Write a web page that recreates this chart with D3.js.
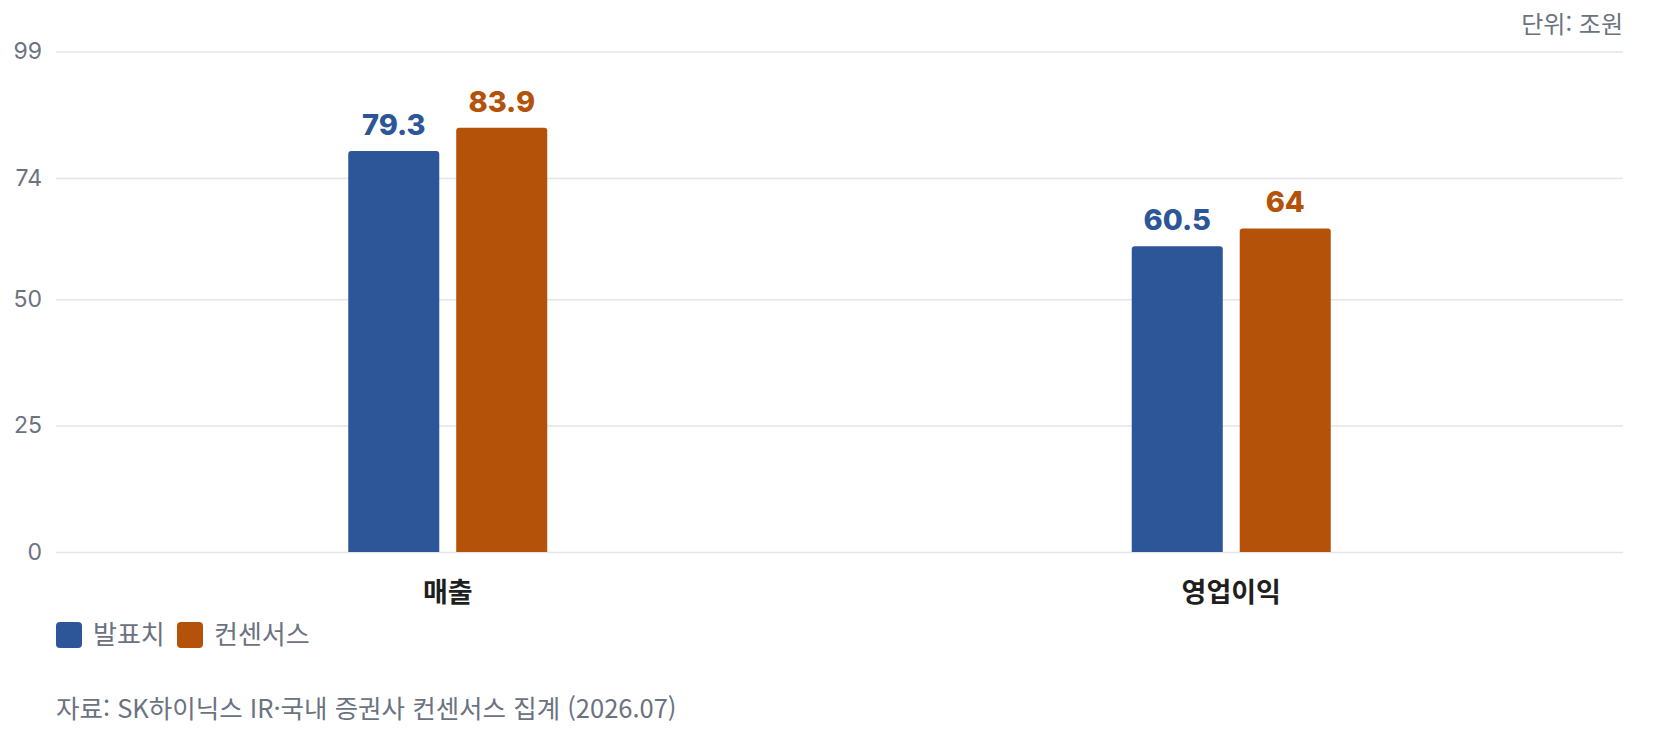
<!DOCTYPE html>
<html lang="ko">
<head>
<meta charset="utf-8">
<script src="https://cdn.jsdelivr.net/npm/d3@7"></script>
<style>
  html, body { margin: 0; padding: 0; background: #fff; }
  svg { display: block; font-family: "Inter", "Noto Sans CJK KR", sans-serif; }
</style>
</head>
<body>
<svg id="chart" width="1680" height="736"></svg>
<script>
const categories = ['매출', '영업이익'];
const seriesNames = ['발표치', '컨센서스'];
const announced = [79.3, 60.5];
const consensus = [83.9, 64];
const yTicks = [0, 25, 50, 74, 99];
const colors = ['#2c5697', '#b4520a'];

const plotLeft = 56, plotRight = 1623, plotTop = 51.5, plotBottom = 552;

const svg = d3.select('#chart');

const y = d3.scaleLinear().domain([0, 99]).range([plotBottom, plotTop]);
const x0 = d3.scaleBand().domain(categories).range([plotLeft, plotRight]).padding(0);
const groupW = 199;
const x1 = d3.scaleBand().domain(seriesNames).range([0, groupW]).paddingInner(0.157);

// grid + y labels
const yAxis = d3.axisLeft(y).tickValues(yTicks).tickSize(-(plotRight - plotLeft)).tickFormat(d3.format('d'));
const ga = svg.append('g').attr('transform', `translate(${plotLeft},0)`).call(yAxis);
ga.select('.domain').remove();
ga.selectAll('.tick line').attr('stroke', '#e4e4ea').attr('stroke-width', 1.5);
ga.selectAll('.tick text')
  .attr('x', -14)
  .attr('fill', '#6b7280')
  .style('font-size', '23px')
  .style('font-family', 'Inter, sans-serif');

const rows = categories.map((c, i) => ({ cat: c, values: [announced[i], consensus[i]] }));

const groups = svg.selectAll('.grp')
  .data(rows)
  .join('g')
  .attr('class', 'grp')
  .attr('transform', d => `translate(${x0(d.cat) + x0.bandwidth() / 2 - groupW / 2},0)`);

groups.selectAll('path.bar')
  .data(d => d.values.map((v, j) => ({ name: seriesNames[j], v, j })))
  .join('path')
  .attr('class', 'bar')
  .attr('fill', d => colors[d.j])
  .attr('d', d => {
    const x = x1(d.name), w = x1.bandwidth(), t = y(d.v), b = y(0), r = 3;
    return `M${x},${b}V${t + r}Q${x},${t} ${x + r},${t}H${x + w - r}Q${x + w},${t} ${x + w},${t + r}V${b}Z`;
  });

groups.selectAll('text.val')
  .data(d => d.values.map((v, j) => ({ name: seriesNames[j], v, j })))
  .join('text')
  .attr('class', 'val')
  .attr('x', d => x1(d.name) + x1.bandwidth() / 2)
  .attr('y', d => y(d.v) - 16)
  .attr('text-anchor', 'middle')
  .attr('fill', d => colors[d.j])
  .style('font-size', '29px')
  .style('font-weight', 800)
  .style('font-family', 'Inter, sans-serif')
  .text(d => d.v);

// category labels
svg.selectAll('text.cat')
  .data(categories)
  .join('text')
  .attr('class', 'cat')
  .attr('x', d => x0(d) + x0.bandwidth() / 2)
  .attr('y', 602)
  .attr('text-anchor', 'middle')
  .attr('fill', '#1f1f1f')
  .style('font-size', '27px')
  .style('font-weight', 700)
  .style('font-family', '"Noto Sans CJK KR", sans-serif')
  .text(d => d);

// unit
svg.append('text')
  .attr('x', plotRight)
  .attr('y', 33)
  .attr('text-anchor', 'end')
  .attr('fill', '#6b7280')
  .style('font-size', '24px')
  .style('font-family', '"Noto Sans CJK KR", sans-serif')
  .text('단위: 조원');

// legend
const legendX = [56, 177];
const lg = svg.selectAll('.lg')
  .data(seriesNames)
  .join('g')
  .attr('class', 'lg')
  .attr('transform', (d, i) => `translate(${legendX[i]},622)`);
lg.append('rect')
  .attr('width', 26).attr('height', 26).attr('rx', 4)
  .attr('fill', (d, i) => colors[i]);
lg.append('text')
  .attr('x', 37).attr('y', 22)
  .attr('fill', '#6b7280')
  .style('font-size', '26px')
  .style('font-family', '"Noto Sans CJK KR", sans-serif')
  .text(d => d);

// source
svg.append('text')
  .attr('x', plotLeft)
  .attr('y', 718)
  .attr('fill', '#6b7280')
  .style('font-size', '25.5px')
  .style('font-family', '"Noto Sans CJK KR", sans-serif')
  .text('자료: SK하이닉스 IR·국내 증권사 컨센서스 집계 (2026.07)');
</script>
</body>
</html>
